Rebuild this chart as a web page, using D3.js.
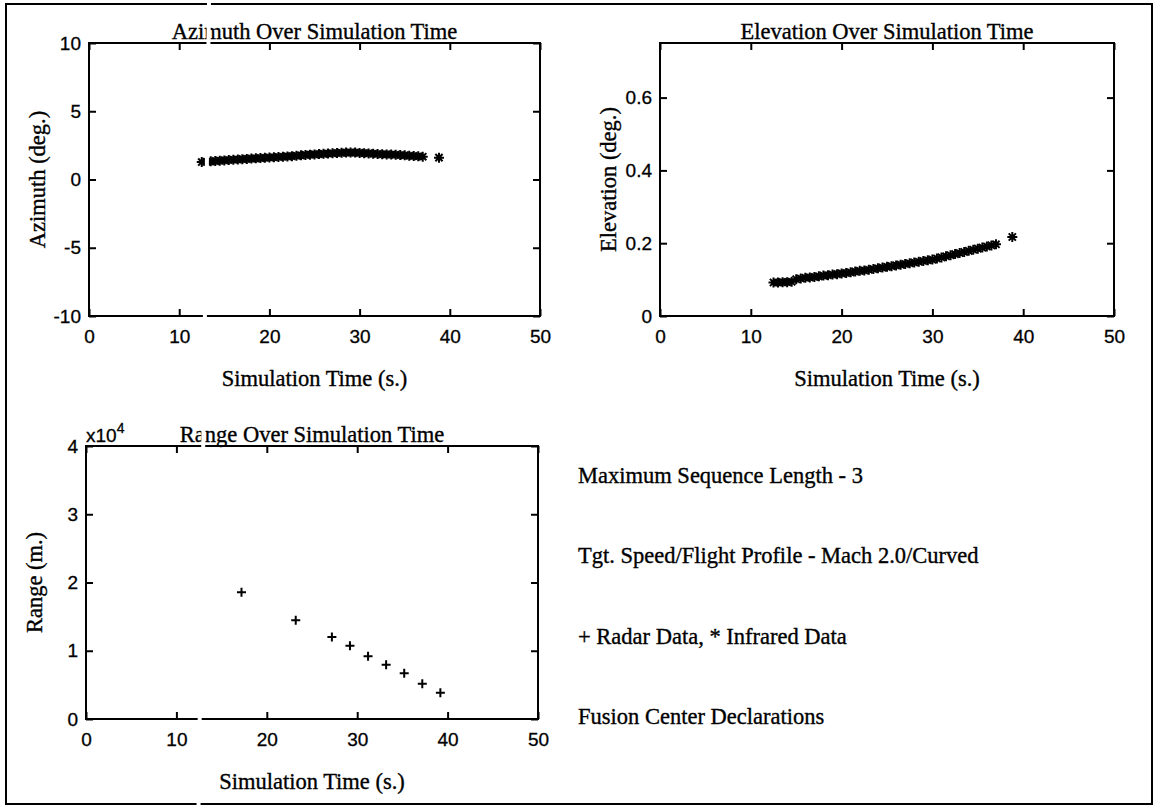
<!DOCTYPE html>
<html>
<head>
<meta charset="utf-8">
<script src="https://cdn.jsdelivr.net/npm/d3@7"></script>
<style>
  body { margin: 0; background: #fff; }
  svg { display: block; }
  .serif { font-family: 'Liberation Serif', serif; font-size: 22.5px; fill: #000; stroke: #000; stroke-width: 0.35px; }
  .tick text { font-family: 'Liberation Sans', sans-serif; font-size: 19px; fill: #000; stroke: #000; stroke-width: 0.3px; }
  .tick line { stroke: #000; stroke-width: 2; }
</style>
</head>
<body>
<svg></svg>
<script>
// infrared (asterisk) samples
let irTime = [ 12.5, 13, 13.5, 14, 14.5, 15, 15.5, 16, 16.5, 17, 17.5, 18, 18.5, 19, 19.5,
  20, 20.5, 21, 21.5, 22, 22.5, 23, 23.5, 24, 24.5, 25, 25.5, 26, 26.5, 27, 27.5, 28, 28.5,
  29, 29.5, 30, 30.5, 31, 31.5, 32, 32.5, 33, 33.5, 34, 34.5, 35, 35.5, 36, 36.5, 37, 38.8 ]

let azimuth = [ 1.28, 1.30, 1.33, 1.35, 1.38, 1.40, 1.43, 1.45, 1.47, 1.49, 1.51, 1.53, 1.55, 1.57, 1.59,
  1.61, 1.63, 1.65, 1.67, 1.69, 1.71, 1.74, 1.77, 1.80, 1.82, 1.84, 1.86, 1.88, 1.90, 1.92, 1.94, 1.96, 1.97,
  1.98, 1.97, 1.95, 1.93, 1.91, 1.89, 1.87, 1.85, 1.84, 1.83, 1.81, 1.79, 1.77, 1.74, 1.72, 1.70, 1.67, 1.60 ]

let elevation = [ 0.092, 0.092, 0.093, 0.093, 0.094, 0.101, 0.103, 0.105, 0.106, 0.107, 0.109, 0.111, 0.112, 0.114, 0.115,
  0.117, 0.118, 0.120, 0.122, 0.124, 0.125, 0.127, 0.129, 0.131, 0.133, 0.135, 0.137, 0.139, 0.141, 0.143, 0.145, 0.147, 0.149,
  0.151, 0.153, 0.155, 0.158, 0.161, 0.164, 0.167, 0.170, 0.173, 0.176, 0.179, 0.182, 0.185, 0.188, 0.191, 0.194, 0.197, 0.217 ]

// radar (plus) samples
let radarTime = [ 17.2, 23.2, 27.2, 29.2, 31.2, 33.2, 35.2, 37.2, 39.2 ]
let range = [ 18570, 14460, 12000, 10740, 9180, 7960, 6690, 5170, 3850 ]

let timeTicks = [ 0, 10, 20, 30, 40, 50 ]
let azimuthTicks = [ -10, -5, 0, 5, 10 ]
let elevationTicks = [ 0, 0.2, 0.4, 0.6 ]
let rangeTicks = [ 0, 10000, 20000, 30000, 40000 ]

let notes = [
  'Maximum Sequence Length - 3',
  'Tgt. Speed/Flight Profile - Mach 2.0/Curved',
  '+ Radar Data, * Infrared Data',
  'Fusion Center Declarations'
]

let width = 1156
let height = 809

let svg =
d3.select( 'svg' )
  .attr( 'width', width )
  .attr( 'height', height )

// outer frame
svg.append( 'rect' )
  .attr( 'x', 6 )
  .attr( 'y', 4 )
  .attr( 'width', 1146 )
  .attr( 'height', 800 )
  .attr( 'fill', 'none' )
  .attr( 'stroke', '#000' )
  .attr( 'stroke-width', 2 )

const asterisk = 'M-5,0H5M0,-5V5M-3.6,-3.6L3.6,3.6M-3.6,3.6L3.6,-3.6'
const plus = 'M-4.5,0H4.5M0,-4.5V4.5'

function panel( p ) {
  const x =
  d3.scaleLinear()
    .domain( [ 0, 50 ] )
    .range( [ p.left, p.right ] )

  const y =
  d3.scaleLinear()
    .domain( p.yDomain )
    .range( [ p.bottom, p.top ] )

  let g = svg.append( 'g' )

  g.append( 'g' )
    .attr( 'transform', `translate(0,${ p.bottom })` )
    .call( d3.axisBottom( x ).tickValues( timeTicks ).tickFormat( d => String( d ) ).tickSize( -7 ).tickSizeOuter( 0 ).tickPadding( 14 ) )

  g.append( 'g' )
    .attr( 'transform', `translate(0,${ p.top })` )
    .call( d3.axisTop( x ).tickValues( timeTicks ).tickSize( -7 ).tickSizeOuter( 0 ).tickFormat( '' ) )

  g.append( 'g' )
    .attr( 'transform', `translate(${ p.left },0)` )
    .call( d3.axisLeft( y ).tickValues( p.yTicks ).tickFormat( p.yFormat ).tickSize( -7 ).tickSizeOuter( 0 ).tickPadding( 8 ) )

  g.append( 'g' )
    .attr( 'transform', `translate(${ p.right },0)` )
    .call( d3.axisRight( y ).tickValues( p.yTicks ).tickSize( -7 ).tickSizeOuter( 0 ).tickFormat( '' ) )

  g.selectAll( '.domain' ).remove()

  g.append( 'rect' )
    .attr( 'x', p.left )
    .attr( 'y', p.top )
    .attr( 'width', p.right - p.left )
    .attr( 'height', p.bottom - p.top )
    .attr( 'fill', 'none' )
    .attr( 'stroke', '#000' )
    .attr( 'stroke-width', 2 )

  g.append( 'text' )
    .attr( 'class', 'serif' )
    .attr( 'x', ( p.left + p.right ) / 2 )
    .attr( 'y', p.top - 4 )
    .attr( 'text-anchor', 'middle' )
    .text( p.title )

  g.append( 'text' )
    .attr( 'class', 'serif' )
    .attr( 'x', ( p.left + p.right ) / 2 )
    .attr( 'y', p.bottom + 70 )
    .attr( 'text-anchor', 'middle' )
    .text( 'Simulation Time (s.)' )

  g.append( 'text' )
    .attr( 'class', 'serif' )
    .attr( 'transform', `translate(${ p.left - 44 },${ ( p.top + p.bottom ) / 2 }) rotate(-90)` )
    .attr( 'text-anchor', 'middle' )
    .text( p.yLabel )

  g.selectAll( 'path.mark' )
    .data( p.t )
    .enter()
    .append( 'path' )
    .attr( 'class', 'mark' )
    .attr( 'transform', ( d, i ) => `translate(${ x( d ) },${ y( p.v[ i ] ) })` )
    .attr( 'd', p.symbol )
    .attr( 'fill', 'none' )
    .attr( 'stroke', '#000' )
    .attr( 'stroke-width', 2 )

  return g
}

panel( {
  left: 89, right: 540, top: 43, bottom: 316,
  yDomain: [ -10, 10 ], yTicks: azimuthTicks, yFormat: d => String( d ),
  title: 'Azimuth Over Simulation Time', yLabel: 'Azimuth (deg.)',
  t: irTime, v: azimuth, symbol: asterisk
} )

panel( {
  left: 660, right: 1114, top: 43, bottom: 316,
  yDomain: [ 0, 0.75 ], yTicks: elevationTicks, yFormat: d => d === 0 ? '0' : d3.format( '.1f' )( d ),
  title: 'Elevation Over Simulation Time', yLabel: 'Elevation (deg.)',
  t: irTime, v: elevation, symbol: asterisk
} )

let rangePanel = panel( {
  left: 86, right: 538, top: 446, bottom: 719,
  yDomain: [ 0, 40000 ], yTicks: rangeTicks, yFormat: d => String( d / 10000 ),
  title: 'Range Over Simulation Time', yLabel: 'Range (m.)',
  t: radarTime, v: range, symbol: plus
} )

// exponent label
let expo =
rangePanel.append( 'text' )
  .attr( 'x', 86 )
  .attr( 'y', 442 )
  .style( 'font-family', "'Liberation Sans', sans-serif" )
  .style( 'font-size', '19px' )
  .style( 'stroke', '#000' )
  .style( 'stroke-width', '0.3px' )

expo.append( 'tspan' ).text( 'x10' )
expo.append( 'tspan' ).attr( 'dy', -9 ).style( 'font-size', '14px' ).text( '4' )

svg.selectAll( 'text.note' )
  .data( notes )
  .enter()
  .append( 'text' )
  .attr( 'class', 'serif note' )
  .attr( 'x', 578 )
  .attr( 'y', ( d, i ) => 483 + i * 80.3 )
  .text( d => d )

// scanner streak
svg.append( 'line' )
  .attr( 'x1', 209 )
  .attr( 'y1', 0 )
  .attr( 'x2', 198.5 )
  .attr( 'y2', 809 )
  .attr( 'stroke', '#fff' )
  .attr( 'stroke-width', 4 )
</script>
</body>
</html>
